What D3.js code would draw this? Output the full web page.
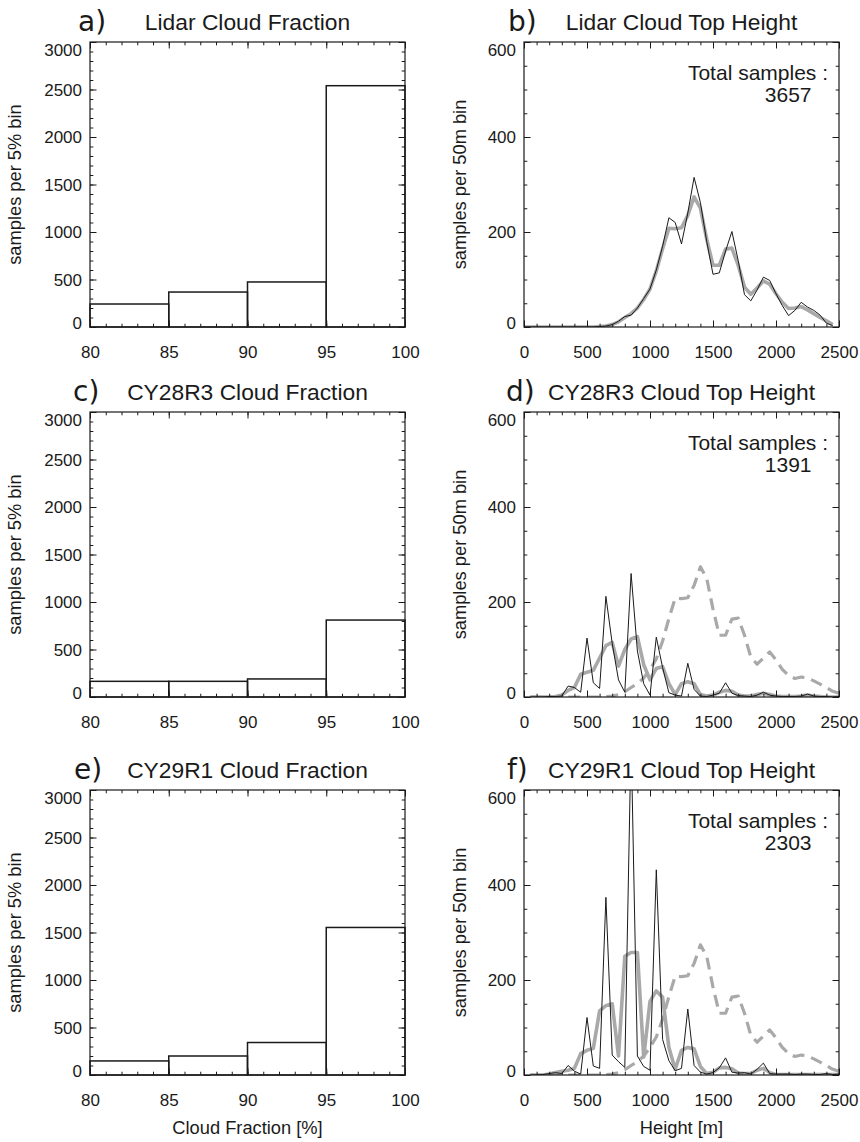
<!DOCTYPE html>
<html>
<head>
<meta charset="utf-8">
<script src="https://cdn.jsdelivr.net/npm/d3@7"></script>
<style>
  body { margin: 0; background: #fff; }
  svg { display: block; font-family: "Liberation Sans", Arial, Helvetica, sans-serif; }
</style>
</head>
<body>
<svg id="fig" width="860" height="1142"></svg>
<script>
// ---- Cloud fraction histograms (samples per 5% bin, bins start at these edges) ----
const fractionBins = [80, 85, 90, 95];
const lidarFraction = [242, 368, 474, 2540];
const cy28r3Fraction = [165, 165, 190, 810];
const cy29r1Fraction = [148, 200, 342, 1553];

const fractionTicks = [80, 85, 90, 95, 100];
const fractionCountTicks = [0, 500, 1000, 1500, 2000, 2500, 3000];
const heightTicks = [0, 500, 1000, 1500, 2000, 2500];
const heightCountTicks = [0, 200, 400, 600];

// ---- Cloud top height distributions (samples per 50 m bin) ----
const lidarHeights = d3.range(0, 2500, 50);   // 0 .. 2450 m
const modelHeights = d3.range(50, 2550, 50);  // 50 .. 2500 m

const lidarTopRaw = [
  0, 0, 0, 0, 0, 0, 0, 0, 0, 0,
  0, 0, 1, 2, 5, 12, 22, 25, 40, 60,
  80, 120, 170, 230, 220, 175, 240, 315, 262, 180,
  111, 114, 160, 201, 140, 68, 55, 78, 105, 98,
  70, 45, 24, 35, 52, 42, 35, 25, 8, 3
];
const lidarTopSmooth = [
  0, 0, 0, 0, 0, 0, 0, 0, 0, 0,
  0, 0, 1, 2, 5, 11, 20, 28, 40, 58,
  80, 118, 165, 208, 207, 209, 235, 274, 250, 185,
  130, 130, 164, 166, 130, 84, 69, 82, 97, 90,
  70, 52, 39, 40, 43, 36, 28, 20, 13, 5
];
// lidar reference curve shown dashed in the model panels (on model heights)
const lidarTopReference = [
  0, 0, 0, 0, 0, 0, 0, 0, 0, 0,
  0, 0, 1, 2, 5, 11, 20, 28, 40, 58,
  80, 118, 165, 208, 207, 209, 235, 274, 250, 185,
  130, 130, 164, 166, 130, 84, 69, 82, 95, 78,
  58, 45, 39, 42, 40, 34, 27, 20, 12, 8
];
const cy28r3TopRaw = [
  0, 0, 0, 1, 1, 2, 23, 20, 10, 124,
  30, 18, 212, 113, 36, 10, 260, 97, 28, 4,
  126, 62, 9, 4, 2, 71, 16, 2, 1, 4,
  8, 30, 8, 3, 2, 1, 4, 10, 4, 2,
  1, 1, 1, 2, 6, 2, 1, 1, 0, 1
];
const cy28r3TopSmooth = [
  0, 0, 0, 0, 1, 4, 14, 20, 48, 52,
  56, 82, 108, 115, 65, 100, 122, 127, 68, 36,
  60, 64, 28, 5, 28, 32, 28, 5, 2, 4,
  10, 14, 12, 4, 2, 2, 5, 8, 5, 2,
  1, 1, 1, 2, 4, 2, 1, 0, 0, 0
];
const cy29r1TopRaw = [
  0, 0, 1, 3, 5, 3, 20, 8, 2, 121,
  19, 14, 374, 42, 28, 16, 710, 40, 18, 10,
  432, 75, 30, 9, 14, 139, 20, 6, 2, 5,
  15, 36, 6, 4, 5, 2, 12, 25, 3, 2,
  2, 2, 1, 2, 2, 1, 1, 3, 1, 2
];
const cy29r1TopSmooth = [
  0, 0, 0, 2, 5, 8, 10, 14, 45, 52,
  56, 135, 146, 150, 40, 250, 258, 258, 38, 155,
  177, 164, 58, 12, 52, 58, 55, 18, 3, 6,
  15, 16, 13, 4, 3, 3, 10, 14, 5, 1,
  1, 1, 1, 1, 1, 1, 1, 1, 1, 1
];
const totalSamples = ["3657", "1391", "2303"];

// ---- layout ----
const svg = d3.select("#fig");
const W = 315, H = 285;
const colX = [90, 524];
const rowY = [42, 412, 790];
const MAJOR = 6.5, MINOR = 3.3;
const INK = "#1a1a1a";
const GREY = "#a9a9a9";
const fmt = d3.format("d");

const pairOf = (xs, vs) => xs.map((h, i) => ({ h, v: vs[i] }));

function drawFrame(g, x, y, o) {
  const [x0, x1] = x.domain();
  const [y0, y1] = y.domain();
  const xMinor = d3.range(x0, x1 + 1e-9, o.xMinorStep);
  const yMinor = d3.range(y0, y1 + 1e-9, o.yMinorStep);
  const clean = s => s.attr("font-family", null).attr("font-size", null)
                      .call(a => a.select(".domain").remove())
                      .call(a => a.selectAll("line").attr("stroke", INK).attr("stroke-width", 1));

  // minor ticks on all four sides, pointing inward
  g.append("g").attr("transform", `translate(0,${H})`)
    .call(d3.axisBottom(x).tickValues(xMinor).tickSize(-MINOR).tickFormat("")).call(clean);
  g.append("g")
    .call(d3.axisTop(x).tickValues(xMinor).tickSize(-MINOR).tickFormat("")).call(clean);
  g.append("g")
    .call(d3.axisLeft(y).tickValues(yMinor).tickSize(-MINOR).tickFormat("")).call(clean);
  g.append("g").attr("transform", `translate(${W},0)`)
    .call(d3.axisRight(y).tickValues(yMinor).tickSize(-MINOR).tickFormat("")).call(clean);

  // major ticks with labels (bottom, left) and mirrored without labels (top, right)
  const bx = g.append("g").attr("transform", `translate(0,${H})`)
    .call(d3.axisBottom(x).tickValues(o.xTicks).tickFormat(fmt).tickSize(-MAJOR).tickSizeOuter(0)).call(clean);
  bx.selectAll("text").attr("y", 31).attr("dy", 0)
    .attr("font-size", 17).attr("fill", INK);
  g.append("g")
    .call(d3.axisTop(x).tickValues(o.xTicks).tickSize(-MAJOR).tickFormat("")).call(clean);

  const ly = g.append("g")
    .call(d3.axisLeft(y).tickValues(o.yTicks).tickFormat(fmt).tickSize(-MAJOR).tickSizeOuter(0)).call(clean);
  ly.selectAll("text").attr("x", -8).attr("dy", "0.35em")
    .attr("font-size", 17).attr("fill", INK)
    .attr("transform", d => d === y0 ? "translate(0,-4.5)" : d === y1 ? "translate(0,8)" : null);
  g.append("g").attr("transform", `translate(${W},0)`)
    .call(d3.axisRight(y).tickValues(o.yTicks).tickSize(-MAJOR).tickFormat("")).call(clean);

  g.append("rect").attr("width", W).attr("height", H)
    .attr("fill", "none").attr("stroke", INK).attr("stroke-width", 1.2);

  // axis titles
  g.append("text")
    .attr("transform", `translate(${o.yTitleX},${H / 2}) rotate(-90)`)
    .attr("text-anchor", "middle").attr("font-size", 18.3).attr("fill", INK)
    .text(o.yTitle);
  if (o.xTitle) {
    g.append("text").attr("x", W / 2).attr("y", H + 59)
      .attr("text-anchor", "middle").attr("font-size", 18.3).attr("fill", INK)
      .text(o.xTitle);
  }
  // panel letter and title
  g.append("text").attr("x", o.letterX).attr("y", -11.5)
    .attr("font-family", "'DejaVu Sans', sans-serif").attr("font-size", 28).attr("fill", INK)
    .text(o.letter);
  g.append("text").attr("x", W / 2).attr("y", -12.5)
    .attr("text-anchor", "middle").attr("font-size", 22.8).attr("fill", INK)
    .text(o.title);
}

function fractionPanel(row, letter, letterX, title, counts, xTitle) {
  const g = svg.append("g").attr("transform", `translate(${colX[0]},${rowY[row]})`);
  const x = d3.scaleLinear().domain([80, 100]).range([0, W]);
  const y = d3.scaleLinear().domain([0, 3000]).range([H, 0]);
  g.append("g").selectAll("rect")
    .data(fractionBins.map((b, i) => ({ b, v: counts[i] })))
    .join("rect")
    .attr("x", d => x(d.b)).attr("width", d => x(d.b + 5) - x(d.b))
    .attr("y", d => y(d.v)).attr("height", d => y(0) - y(d.v))
    .attr("fill", "none").attr("stroke", INK).attr("stroke-width", 1.5);
  drawFrame(g, x, y, {
    xTicks: fractionTicks, xMinorStep: 1, yTicks: fractionCountTicks, yMinorStep: 100,
    yTitle: "samples per 5% bin", yTitleX: -68.8, xTitle,
    letter, letterX: letterX - colX[0], title
  });
}

function heightPanel(row, letter, letterX, title, series, total, xTitle) {
  const g = svg.append("g").attr("transform", `translate(${colX[1]},${rowY[row]})`);
  const x = d3.scaleLinear().domain([0, 2500]).range([0, W]);
  const y = d3.scaleLinear().domain([0, 600]).range([H, 0]);
  const clipId = "clip-" + letter.replace(")", "");
  g.append("clipPath").attr("id", clipId)
    .append("rect").attr("width", W).attr("height", H);
  const line = d3.line().x(d => x(d.h)).y(d => y(d.v));
  const plot = g.append("g").attr("clip-path", `url(#${clipId})`);
  series.forEach(s => {
    plot.append("path").datum(s.data).attr("d", line)
      .attr("fill", "none").attr("stroke", s.color).attr("stroke-width", s.width)
      .attr("stroke-linejoin", "round")
      .attr("stroke-dasharray", s.dash || null);
  });
  g.append("text").attr("x", W - 11).attr("y", 38)
    .attr("text-anchor", "end").attr("font-size", 21).attr("fill", INK)
    .text("Total samples :");
  g.append("text").attr("x", W - 27.5).attr("y", 60)
    .attr("text-anchor", "end").attr("font-size", 21).attr("fill", INK)
    .text(total);
  drawFrame(g, x, y, {
    xTicks: heightTicks, xMinorStep: 100, yTicks: heightCountTicks, yMinorStep: 50,
    yTitle: "samples per 50m bin", yTitleX: -58.5, xTitle,
    letter, letterX: letterX - colX[1], title
  });
}

const refSeries = { data: pairOf(modelHeights, lidarTopReference), color: GREY, width: 3.2, dash: "12,7" };

fractionPanel(0, "a)", 78, "Lidar Cloud Fraction", lidarFraction);
heightPanel(0, "b)", 508, "Lidar Cloud Top Height", [
  { data: pairOf(lidarHeights, lidarTopSmooth), color: GREY, width: 3.6 },
  { data: pairOf(lidarHeights, lidarTopRaw), color: INK, width: 1 }
], totalSamples[0]);

fractionPanel(1, "c)", 73, "CY28R3 Cloud Fraction", cy28r3Fraction);
heightPanel(1, "d)", 506, "CY28R3 Cloud Top Height", [
  refSeries,
  { data: pairOf(modelHeights, cy28r3TopSmooth), color: GREY, width: 3.6 },
  { data: pairOf(modelHeights, cy28r3TopRaw), color: INK, width: 1 }
], totalSamples[1]);

fractionPanel(2, "e)", 74, "CY29R1 Cloud Fraction", cy29r1Fraction, "Cloud Fraction [%]");
heightPanel(2, "f)", 507, "CY29R1 Cloud Top Height", [
  refSeries,
  { data: pairOf(modelHeights, cy29r1TopSmooth), color: GREY, width: 3.6 },
  { data: pairOf(modelHeights, cy29r1TopRaw), color: INK, width: 1 }
], totalSamples[2], "Height [m]");
</script>
</body>
</html>
